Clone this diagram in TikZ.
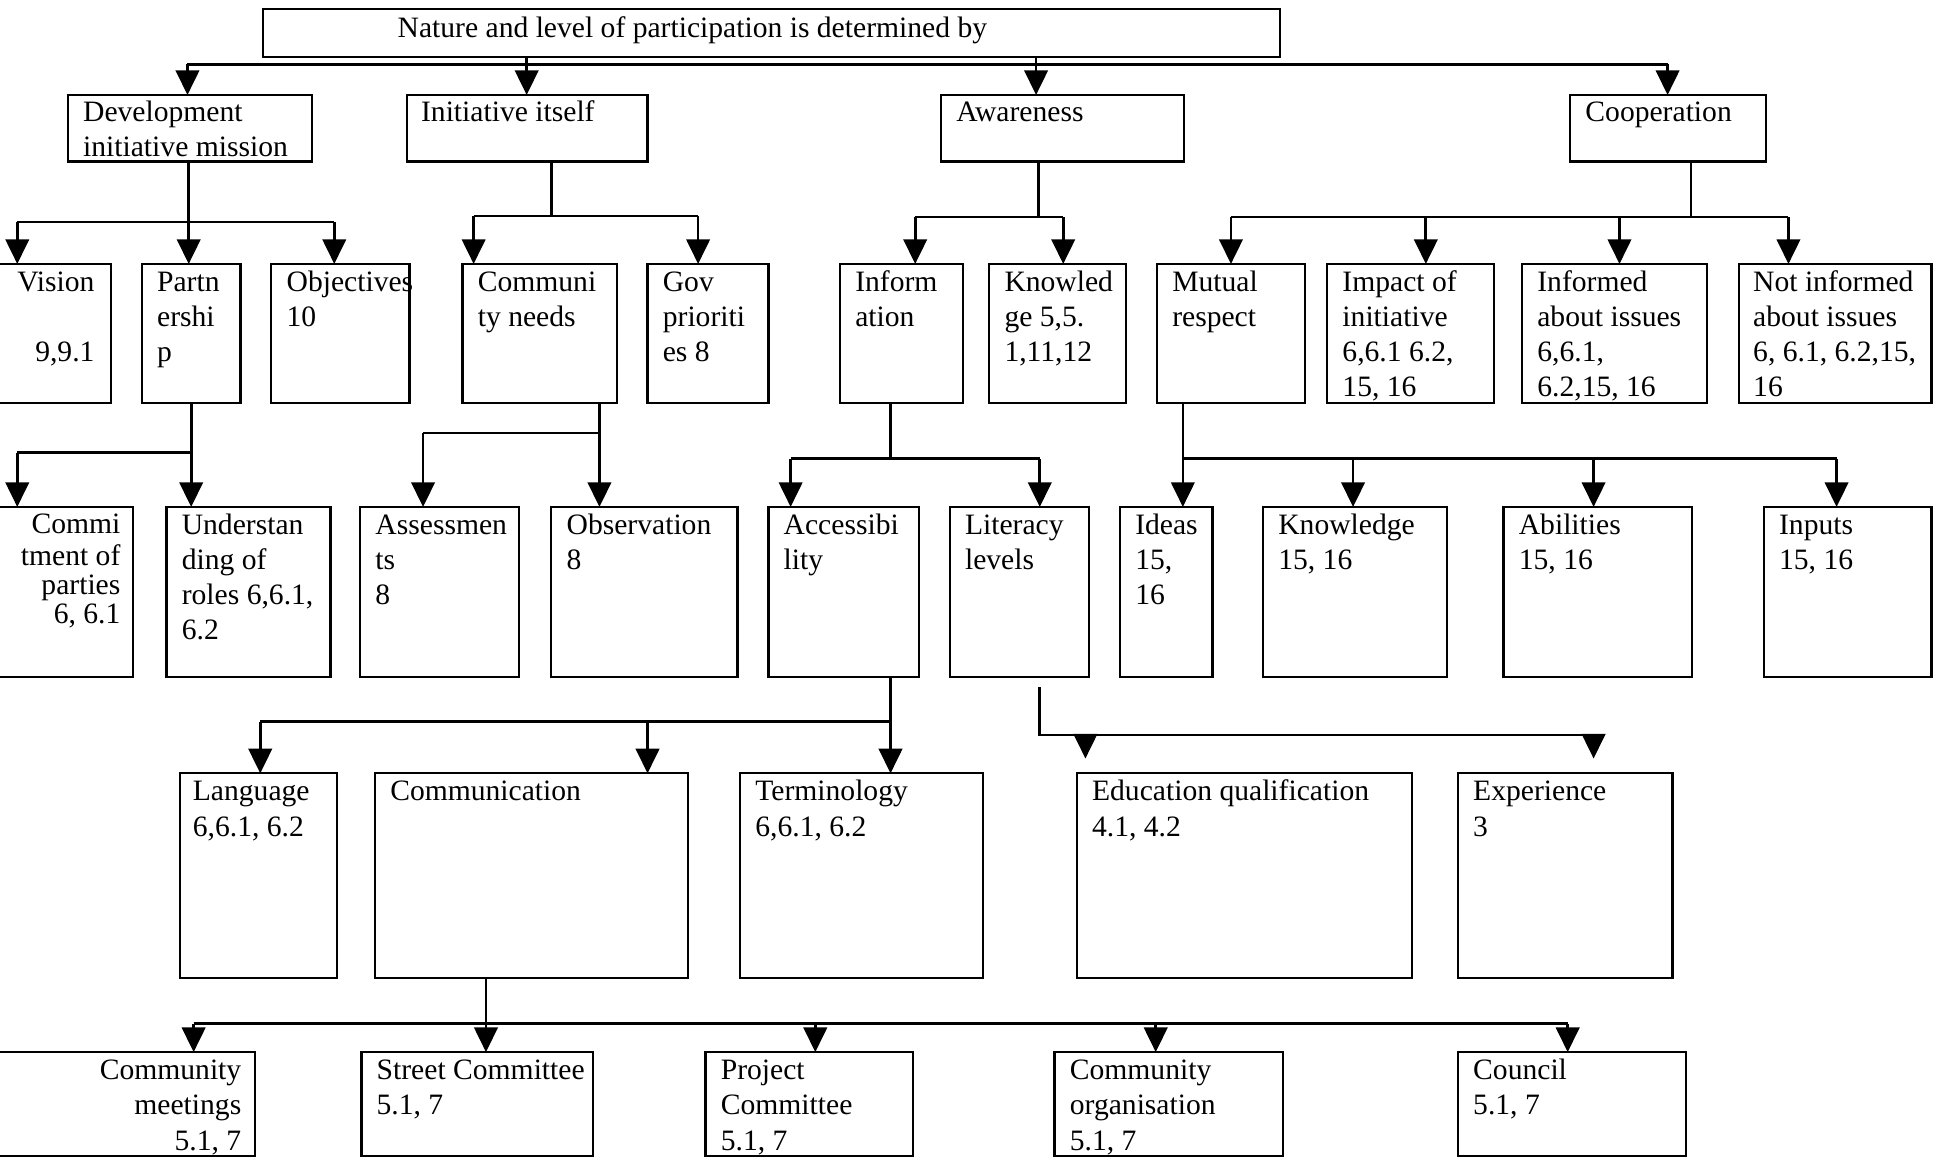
\documentclass[tikz,border=0pt]{standalone}
\usepackage{fontspec}
\setmainfont{Liberation Serif}
\usetikzlibrary{arrows.meta,calc}
\tikzset{
  bx/.style={draw, line width=0.9pt, inner sep=0pt, outer sep=0pt, anchor=north west},
  lbl/.style={anchor=north west, inner sep=0pt, align=left, font=\fontsize{12}{14.25}\selectfont},
  rlbl/.style={anchor=north east, inner sep=0pt, align=right, font=\fontsize{12}{14.25}\selectfont},
  ln/.style={line width=1.1pt},
  arr/.style={line width=1.1pt, -{Triangle[width=9.5pt,length=10pt]}},
}
\newcommand\mkbox[5]{%
  \node[bx, minimum width={((#4)-(#2))*0.5pt}, minimum height={((#5)-(#3))*0.5pt}] (#1) at (#2,#3) {};}
\newcommand\mktext[2]{\node[lbl] (#1t) at ($(#1.north west)+(12,2)$) {\strut #2};}
\begin{document}
\begin{tikzpicture}[x=0.5pt,y=-0.5pt]
\fill[white] (0,0) rectangle (1568,939);
\useasboundingbox (0,0) rectangle (1568,939);
\clip (0,0) rectangle (1568,939);

% ---------- boxes ----------
\mkbox{top}{213}{7}{1038}{46}
\node[lbl] (topt) at (322,10) {\strut Nature and level of participation is determined by};

% level 1
\mkbox{dev}{55}{77}{253}{131}      \node[lbl] (devt) at ($(dev.north west)+(12,1)$) {\strut Development\\initiative mission};
\mkbox{init}{330}{77}{525}{131}    \node[lbl] (initt) at ($(init.north west)+(11,1)$) {\strut Initiative itself};
\mkbox{aware}{763}{77}{960}{131}   \node[lbl] (awaret) at ($(aware.north west)+(12,1)$) {\strut Awareness};
\mkbox{coop}{1273}{77}{1432}{131}  \node[lbl] (coopt) at ($(coop.north west)+(12,1)$) {\strut Cooperation};

% level 2
\mkbox{vis}{-62}{214}{90}{327}
\node[rlbl] (vist) at ($(vis.north east)+(-13,2)$) {\strut Vision\\[14.25pt]9,9.1};
\mkbox{part}{115}{214}{195}{327}   \mktext{part}{Partn\\ershi\\p}
\mkbox{obj}{220}{214}{332}{327}    \mktext{obj}{Objectives\\10}
\mkbox{cneed}{375}{214}{500}{327}  \mktext{cneed}{Communi\\ty needs}
\mkbox{gov}{525}{214}{623}{327}    \mktext{gov}{Gov\\prioriti\\es 8}
\mkbox{info}{681}{214}{781}{327}   \mktext{info}{Inform\\ation}
\mkbox{know}{802}{214}{913}{327}   \mktext{know}{Knowled\\ge 5,5.\\1,11,12}
\mkbox{mut}{938}{214}{1058}{327}   \mktext{mut}{Mutual\\respect}
\mkbox{imp}{1076}{214}{1211}{327}  \mktext{imp}{Impact of\\initiative\\6,6.1 6.2,\\15, 16}
\mkbox{infd}{1234}{214}{1384}{327} \mktext{infd}{Informed\\about issues\\6,6.1,\\6.2,15, 16}
\mkbox{ninf}{1410}{214}{1566}{327} \node[lbl] (ninft) at ($(ninf.north west)+(11,2)$) {\strut Not informed\\about issues\\6, 6.1, 6.2,15,\\16};

% level 3
\mkbox{com}{-80}{411}{108}{549}
\node[rlbl, font=\fontsize{12}{11.7}\selectfont] (comt) at ($(com.north east)+(-10,5)$) {\strut Commi\\tment of\\parties\\6, 6.1};
\mkbox{und}{135}{411}{268}{549}    \mktext{und}{Understan\\ding of\\roles 6,6.1,\\6.2}
\mkbox{ass}{292}{411}{421}{549}    \mktext{ass}{Assessmen\\ts\\8}
\mkbox{obs}{447}{411}{598}{549}    \mktext{obs}{Observation\\8}
\mkbox{acc}{623}{411}{745}{549}    \mktext{acc}{Accessibi\\lity}
\mkbox{lit}{770}{411}{883}{549}    \mktext{lit}{Literacy\\levels}
\mkbox{ide}{908}{411}{983}{549}    \mktext{ide}{Ideas\\15,\\16}
\mkbox{kn}{1024}{411}{1173}{549}   \mktext{kn}{Knowledge\\15, 16}
\mkbox{abl}{1219}{411}{1372}{549}  \mktext{abl}{Abilities\\15, 16}
\mkbox{inp}{1430}{411}{1566}{549}  \mktext{inp}{Inputs\\15, 16}

% level 4
\mkbox{lang}{146}{627}{273}{793}   \node[lbl] (langt) at ($(lang.north west)+(10,2)$) {\strut Language\\6,6.1, 6.2};
\mkbox{comm}{304}{627}{558}{793}   \mktext{comm}{Communication}
\mkbox{term}{600}{627}{797}{793}   \mktext{term}{Terminology\\6,6.1, 6.2}
\mkbox{edu}{873}{627}{1145}{793}   \mktext{edu}{Education qualification\\4.1, 4.2}
\mkbox{exp}{1182}{627}{1356}{793}  \mktext{exp}{Experience\\3}

% level 5
\mkbox{cm}{-80}{853}{207}{937}
\node[rlbl] (cmt) at ($(cm.north east)+(-11,2)$) {\strut Community\\meetings\\5.1, 7};
\mkbox{st}{293}{853}{481}{937}     \mktext{st}{Street Committee\\5.1, 7}
\mkbox{pc}{572}{853}{740}{937}     \mktext{pc}{Project\\Committee\\5.1, 7}
\mkbox{co}{855}{853}{1040}{937}    \mktext{co}{Community\\organisation\\5.1, 7}
\mkbox{cou}{1182}{853}{1367}{937}  \mktext{cou}{Council\\5.1, 7}

% ---------- connectors ----------
% top
\coordinate (t1) at (152,52); \coordinate (t4) at (1352,52);
\coordinate (t2) at (427,0);  \coordinate (t3) at (840,0);
\draw[ln] (t1) -- (t4);
\draw[arr] (t1) -- (t1 |- dev.north);
\draw[arr] (t4) -- (t4 |- coop.north);
\draw[arr] (t2 |- top.south) -- (t2 |- init.north);
\draw[arr] (t3 |- top.south) -- (t3 |- aware.north);

% development
\coordinate (d1) at (14,180); \coordinate (d3) at (271,180); \coordinate (d2) at (153,0);
\draw[ln] (d1) -- (d3);
\draw[arr] (d1) -- (d1 |- vis.north);
\draw[arr] (d3) -- (d3 |- obj.north);
\draw[arr] (d2 |- dev.south) -- (d2 |- part.north);

% initiative itself
\coordinate (i0) at (447,175); \coordinate (i1) at (384,175); \coordinate (i2) at (566,175);
\draw[ln] (i0 |- init.south) -- (i0);
\draw[ln] (i1) -- (i2);
\draw[arr] (i1) -- (i1 |- cneed.north);
\draw[arr] (i2) -- (i2 |- gov.north);

% awareness
\coordinate (a0) at (842,176); \coordinate (a1) at (742,176); \coordinate (a2) at (862,176);
\draw[ln] (a0 |- aware.south) -- (a0);
\draw[ln] (a1) -- (a2);
\draw[arr] (a1) -- (a1 |- info.north);
\draw[arr] (a2) -- (a2 |- know.north);

% cooperation
\coordinate (c0) at (1371,176); \coordinate (c1) at (998,176); \coordinate (c2) at (1156,176);
\coordinate (c3) at (1313,176); \coordinate (c4) at (1450,176);
\draw[ln] (c0 |- coop.south) -- (c0);
\draw[ln] (c1) -- (c4);
\draw[arr] (c1) -- (c1 |- mut.north);
\draw[arr] (c2) -- (c2 |- imp.north);
\draw[arr] (c3) -- (c3 |- infd.north);
\draw[arr] (c4) -- (c4 |- ninf.north);

% partnership
\coordinate (p0) at (155,367); \coordinate (p1) at (14,367);
\draw[arr] (p0 |- part.south) -- (p0 |- und.north);
\draw[ln] (p1) -- (p0);
\draw[arr] (p1) -- (p1 |- com.north);

% community needs
\coordinate (n0) at (486,351); \coordinate (n1) at (343,351);
\draw[arr] (n0 |- cneed.south) -- (n0 |- obs.north);
\draw[ln] (n1) -- (n0);
\draw[arr] (n1) -- (n1 |- ass.north);

% information
\coordinate (f0) at (722,372); \coordinate (f1) at (641,372); \coordinate (f2) at (843,372);
\draw[ln] (f0 |- info.south) -- (f0);
\draw[ln] (f1) -- (f2);
\draw[arr] (f1) -- (f1 |- acc.north);
\draw[arr] (f2) -- (f2 |- lit.north);

% mutual respect
\coordinate (m0) at (959,372); \coordinate (m1) at (1097,372);
\coordinate (m2) at (1292,372); \coordinate (m3) at (1489,372);
\draw[arr] (m0 |- mut.south) -- (m0 |- ide.north);
\draw[ln] (m0) -- (m3);
\draw[arr] (m1) -- (m1 |- kn.north);
\draw[arr] (m2) -- (m2 |- abl.north);
\draw[arr] (m3) -- (m3 |- inp.north);

% accessibility
\coordinate (x0) at (722,585); \coordinate (x1) at (211,585); \coordinate (x2) at (525,585);
\draw[arr] (x0 |- acc.south) -- (x0 |- term.north);
\draw[ln] (x1) -- (x0);
\draw[arr] (x1) -- (x1 |- lang.north);
\draw[arr] (x2) -- (x2 |- comm.north);

% literacy levels
\coordinate (l0) at (843,596); \coordinate (l1) at (880,596); \coordinate (l2) at (1292,596);
\draw[ln] ($(l0 |- lit.south)+(0,8)$) -- (l0) -- (l2);
\draw[arr] (l1) -- ($(l1 |- edu.north)+(0,-12)$);
\draw[arr] (l2) -- ($(l2 |- exp.north)+(0,-12)$);

% communication
\coordinate (k0) at (394,830); \coordinate (k1) at (157,830); \coordinate (k2) at (661,830);
\coordinate (k3) at (937,830); \coordinate (k4) at (1271,830);
\draw[arr] (k0 |- comm.south) -- (k0 |- st.north);
\draw[ln, line width=1.4pt] (k1) -- (k4);
\draw[arr] (k1) -- (k1 |- cm.north);
\draw[arr] (k2) -- (k2 |- pc.north);
\draw[arr] (k3) -- (k3 |- co.north);
\draw[arr] (k4) -- (k4 |- cou.north);
\end{tikzpicture}
\end{document}
